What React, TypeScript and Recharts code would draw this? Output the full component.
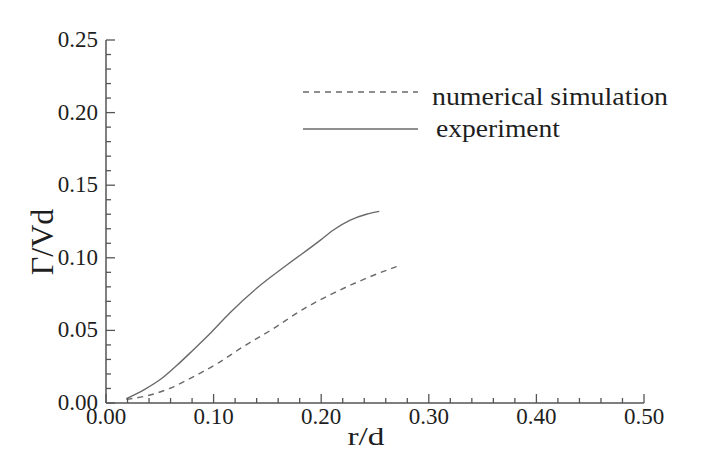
import { LineChart, Line, XAxis, YAxis } from 'recharts'

const R_EXP = [0.019, 0.036, 0.052, 0.066, 0.081, 0.097, 0.115, 0.14, 0.168, 0.199, 0.211, 0.227, 0.242, 0.254]
const G_EXP = [0.003, 0.0094, 0.017, 0.026, 0.0365, 0.048, 0.062, 0.079, 0.095, 0.112, 0.119, 0.126, 0.13, 0.132]

const R_SIM = [0.019, 0.041, 0.059, 0.081, 0.103, 0.128, 0.155, 0.183, 0.211, 0.239, 0.27]
const G_SIM = [0.0025, 0.0055, 0.01, 0.018, 0.027, 0.039, 0.051, 0.0645, 0.0755, 0.085, 0.094]

const X_TICKS = [0, 0.02, 0.04, 0.06, 0.08, 0.1, 0.12, 0.14, 0.16, 0.18, 0.2, 0.22, 0.24, 0.26, 0.28, 0.3, 0.32, 0.34, 0.36, 0.38, 0.4, 0.42, 0.44, 0.46, 0.48, 0.5]
const Y_TICKS = [0, 0.01, 0.02, 0.03, 0.04, 0.05, 0.06, 0.07, 0.08, 0.09, 0.1, 0.11, 0.12, 0.13, 0.14, 0.15, 0.16, 0.17, 0.18, 0.19, 0.2, 0.21, 0.22, 0.23, 0.24, 0.25]

const expData = R_EXP.map((r, i) => ({ r, g: G_EXP[i] }))
const simData = R_SIM.map((r, i) => ({ r, g: G_SIM[i] }))

const FONT = 'Liberation Serif, DejaVu Serif, serif'
const AXIS = '#555'
const LINE = '#6a6a6a'
const TEXT = '#1e1e1e'

function XTick(props: any) {
  const { x, y, payload } = props
  const major = Math.round(payload.value * 100) % 10 === 0
  return (
    <g>
      <line x1={x} x2={x} y1={y} y2={y - (major ? 9 : 5)} stroke={AXIS} strokeWidth={1.3} />
      {major && (
        <text x={x} y={y + 21} textAnchor="middle" style={{ fontFamily: FONT, fontSize: 23 }} fill={TEXT}>
          {payload.value.toFixed(2)}
        </text>
      )}
    </g>
  )
}

function YTick(props: any) {
  const { x, y, payload } = props
  const major = Math.round(payload.value * 100) % 5 === 0
  return (
    <g>
      <line x1={x} x2={x + (major ? 9 : 5)} y1={y} y2={y} stroke={AXIS} strokeWidth={1.3} />
      {major && (
        <text x={x - 8} y={y + 7} textAnchor="end" style={{ fontFamily: FONT, fontSize: 23 }} fill={TEXT}>
          {payload.value.toFixed(2)}
        </text>
      )}
    </g>
  )
}

export default function App() {
  return (
    <div style={{ position: 'absolute', left: 0, top: 0, width: 718, height: 452, background: '#fff', fontFamily: FONT }}>
      <LineChart width={718} height={452} margin={{ top: 40, right: 74, bottom: 9, left: 46 }}>
        <XAxis
          type="number"
          dataKey="r"
          domain={[0, 0.5]}
          ticks={X_TICKS}
          interval={0}
          height={40}
          tickSize={0}
          tickMargin={0}
          tickLine={false}
          tick={XTick}
          axisLine={{ stroke: AXIS, strokeWidth: 1.5 }}
          allowDataOverflow
        />
        <YAxis
          type="number"
          dataKey="g"
          domain={[0, 0.25]}
          ticks={Y_TICKS}
          interval={0}
          width={60}
          tickSize={0}
          tickMargin={0}
          tickLine={false}
          tick={YTick}
          axisLine={{ stroke: AXIS, strokeWidth: 1.5 }}
          allowDataOverflow
        />
        <Line data={simData} dataKey="g" type="monotone" stroke={LINE} strokeWidth={1.4} strokeDasharray="6 5" dot={false} isAnimationActive={false} />
        <Line data={expData} dataKey="g" type="monotone" stroke={LINE} strokeWidth={1.4} dot={false} isAnimationActive={false} />
      </LineChart>
      <svg width={718} height={452} style={{ position: 'absolute', left: 0, top: 0, pointerEvents: 'none', fontFamily: FONT }}>
        <line x1={303} x2={418} y1={92} y2={92} stroke={LINE} strokeWidth={1.3} strokeDasharray="6 5" />
        <text x={432} y={105} style={{ fontSize: 26 }} textLength={236} lengthAdjust="spacingAndGlyphs" fill={TEXT}>numerical simulation</text>
        <line x1={303} x2={418} y1={129} y2={129} stroke={LINE} strokeWidth={1.4} />
        <text x={436} y={137} style={{ fontSize: 26 }} textLength={124} lengthAdjust="spacingAndGlyphs" fill={TEXT}>experiment</text>
        <text x={366} y={445} textAnchor="middle" style={{ fontSize: 26 }} textLength={37} lengthAdjust="spacingAndGlyphs" fill={TEXT}>r/d</text>
        <text x={0} y={0} textAnchor="middle" style={{ fontSize: 32 }} fill={TEXT} transform="translate(53 242) rotate(-90)">Γ/Vd</text>
      </svg>
    </div>
  )
}
